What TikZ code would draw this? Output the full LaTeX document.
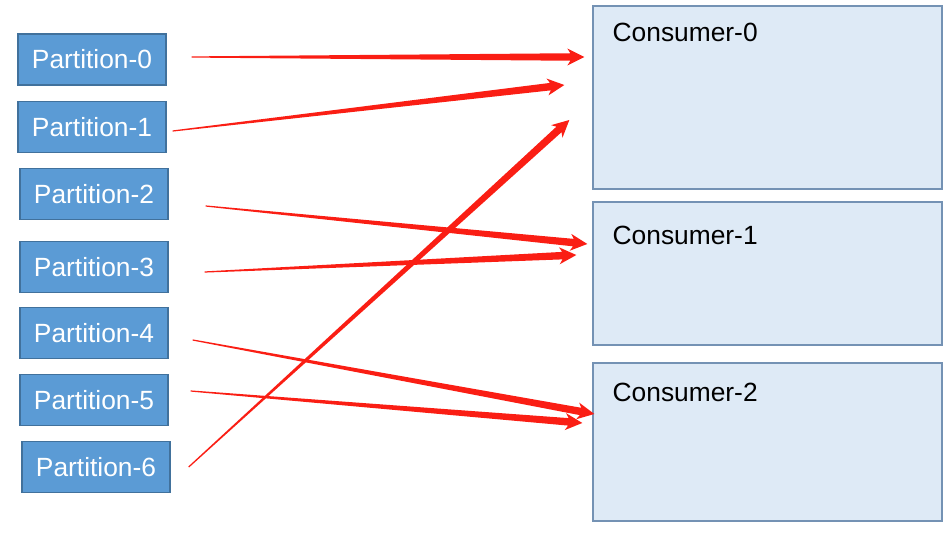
\documentclass[tikz,border=0pt]{standalone}
\usepackage{fontspec}
\setmainfont{Liberation Sans}
\usetikzlibrary{calc, positioning}
\definecolor{cPart}{RGB}{91,155,213}
\definecolor{cPartLine}{RGB}{65,113,156}
\definecolor{cCons}{RGB}{222,234,246}
\definecolor{cConsLine}{RGB}{116,146,180}
\definecolor{cArrow}{RGB}{250,30,20}
\tikzset{
  part/.style={rectangle, draw=cPartLine, fill=cPart, text=white, line width=0.8pt,
               minimum width=2.96cm, minimum height=1.02cm, inner sep=0pt,
               font=\fontsize{15}{18}\selectfont},
  cons/.style={rectangle, draw=cConsLine, fill=cCons, line width=0.8pt,
               minimum width=6.98cm, inner sep=0pt},
  consText/.style={anchor=base west, inner sep=0pt, text=black,
               font=\fontsize{15}{18}\selectfont},
  arrFill/.style={fill=cArrow},
}
% tapered arrow: thin at the tail, wide at the head
\newcommand\taperarrow[2]{%
  \fill[arrFill]
    ($(#1)!0.012cm!90:(#2)$) --
    ($(#2)!0.28cm!(#1)!0.075cm!90:(#2)$) --
    ($(#2)!0.34cm!(#1)!0.17cm!90:(#2)$) --
    (#2) --
    ($(#2)!0.34cm!(#1)!0.17cm!-90:(#2)$) --
    ($(#2)!0.28cm!(#1)!0.075cm!-90:(#2)$) --
    ($(#1)!0.012cm!-90:(#2)$) -- cycle;
}

\begin{document}
\begin{tikzpicture}[x=0.02cm, y=-0.02cm]
\useasboundingbox (0,0) rectangle (950,533);

%% ============================================================
%% PARTITIONS  -- left column
%% ============================================================
\node[part] (p0) at (92, 59.5)  {Partition-0};
\node[part] (p1) at (92, 127.0) {Partition-1};
\node[part] (p2) at (94, 194.0) {Partition-2};
\node[part] (p3) at (94, 267.0) {Partition-3};
\node[part] (p4) at (94, 333.0) {Partition-4};
\node[part] (p5) at (94, 400.0) {Partition-5};
\node[part] (p6) at (96, 467.0) {Partition-6};

%% ============================================================
%% CONSUMERS  -- right column
%% ============================================================
\node[cons, minimum height=3.66cm] (c0) at (767.5, 97.5) {};
\node[cons, minimum height=2.86cm] (c1) at (767.5, 273.5) {};
\node[cons, minimum height=3.16cm] (c2) at (767.5, 442.0) {};

\node[consText] (c0label) at ($(c0.north west)+(20,36)$) {Consumer-0};
\node[consText] (c1label) at ($(c1.north west)+(20,43)$) {Consumer-1};
\node[consText] (c2label) at ($(c2.north west)+(20,39)$) {Consumer-2};

%% ============================================================
%% ARROW ENDS
%% ============================================================
\coordinate (t0) at ($(p0.east)+(25,-2.5)$);
\coordinate (t1) at ($(p1.east)+(6,4)$);
\coordinate (t2) at ($(p2.east)+(37,12)$);
\coordinate (t3) at ($(p3.east)+(36,5)$);
\coordinate (t4) at ($(p4.east)+(24,7)$);
\coordinate (t5) at ($(p5.east)+(22,-9)$);
\coordinate (t6) at ($(p6.east)+(18,0)$);

\coordinate (h0) at ($(c0.west)+(-8,-40.5)$);
\coordinate (h1) at ($(c0.west)+(-28,-12.5)$);
\coordinate (h6) at ($(c0.west)+(-23,22.5)$);
\coordinate (h2) at ($(c1.west)+(-5,-29.5)$);
\coordinate (h3) at ($(c1.west)+(-16,-18.5)$);
\coordinate (h4) at ($(c2.west)+(2,-28)$);
\coordinate (h5) at ($(c2.west)+(-10,-19)$);

%% ============================================================
%% ASSIGNMENTS
%% ============================================================
\foreach \i in {0,...,6} {\taperarrow{t\i}{h\i}}

\end{tikzpicture}
\end{document}
